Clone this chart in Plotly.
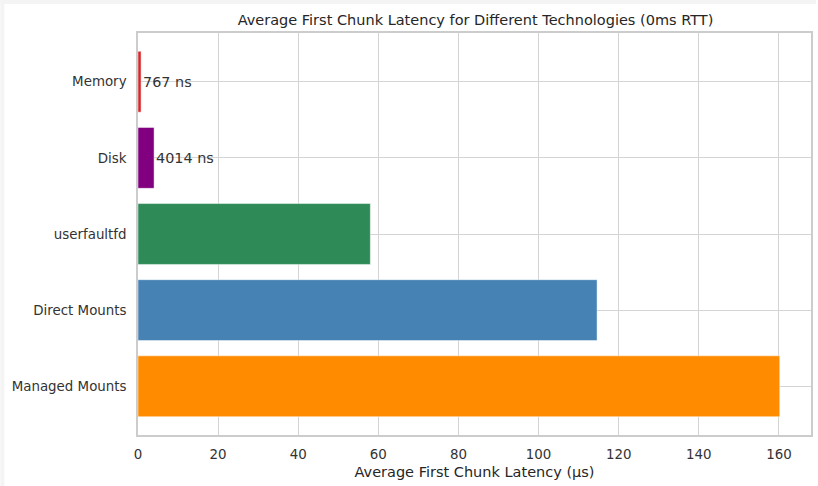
import plotly.graph_objects as go

categories = ["Managed Mounts", "Direct Mounts", "userfaultfd", "Disk", "Memory"]
latency_us = [160.2, 114.6, 58.0, 4.014, 0.767]
colors = ["#ff8c00", "#4682b4", "#2e8b57", "#800080", "#d62728"]
label_texts = {"Disk": "4014 ns", "Memory": "767 ns"}
x_ticks = [0, 20, 40, 60, 80, 100, 120, 140, 160]

W, H = 818, 486
L, R, T, B = 138, 5, 33, 51

fig = go.Figure()
fig.add_trace(go.Bar(
    y=list(range(len(categories))),
    x=latency_us,
    orientation="h",
    width=0.8,
    marker=dict(color=colors, line=dict(color="rgba(255,255,255,0.6)", width=0.8)),
    hoverinfo="skip",
))

for i, c in enumerate(categories):
    if c in label_texts:
        fig.add_annotation(
            x=latency_us[i], y=i, text=label_texts[c], showarrow=False,
            xanchor="left", yanchor="middle", xshift=0,
            font=dict(family="DejaVu Sans", size=14.4, color="#333333"),
        )

# light gray frame strips at top and left
pw = W - L - R
ph = H - T - B
fig.add_shape(type="rect", xref="paper", yref="paper",
              x0=-L / pw, x1=(W - L) / pw, y0=1 + (T - 4) / ph, y1=1 + T / ph,
              fillcolor="#f4f4f4", line_width=0, layer="below")
fig.add_shape(type="rect", xref="paper", yref="paper",
              x0=-L / pw, x1=-(L - 4) / pw, y0=-B / ph, y1=1 + T / ph,
              fillcolor="#f4f4f4", line_width=0, layer="below")

fig.update_layout(
    width=W, height=H,
    margin=dict(l=L, r=R, t=T, b=B, pad=0),
    paper_bgcolor="white", plot_bgcolor="white",
    font=dict(family="DejaVu Sans", color="#333333", size=13.4),
    title=dict(text="Average First Chunk Latency for Different Technologies (0ms RTT)",
               x=(L + pw / 2) / W, xanchor="center", y=1 - 20 / H, yanchor="middle",
               font=dict(size=14.5, color="#262626")),
    showlegend=False,
    bargap=0.2,
)
fig.update_xaxes(
    range=[0, 168.0], tickvals=x_ticks, ticktext=[str(t) for t in x_ticks],
    showgrid=True, gridcolor="#d4d4d4", gridwidth=1,
    showline=True, linecolor="#cccccc", linewidth=1.5, mirror=True,
    zeroline=False, ticks="", ticklabelstandoff=6,
    title=dict(text="Average First Chunk Latency (µs)", font=dict(size=14.5, color="#262626"), standoff=6),
    tickfont=dict(size=13.4, color="#333333"),
)
fig.update_yaxes(
    range=[-0.64, 4.64], tickvals=list(range(len(categories))), ticktext=categories,
    showgrid=True, gridcolor="#d4d4d4", gridwidth=1,
    showline=True, linecolor="#cccccc", linewidth=1.5, mirror=True,
    zeroline=False, ticks="", ticklabelstandoff=7,
    tickfont=dict(size=13.4, color="#333333"),
)

fig.write_html("out.html", config={"displayModeBar": False},
               post_script="document.body.style.margin='0';")
